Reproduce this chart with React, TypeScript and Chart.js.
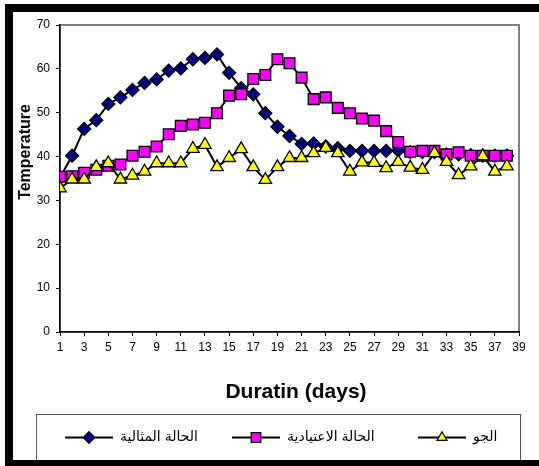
import React, { useEffect, useRef } from "react";
import { Chart, registerables } from "chart.js";

Chart.register(...registerables);

// ---- data ----
const days = [1, 2, 3, 4, 5, 6, 7, 8, 9, 10, 11, 12, 13, 14, 15, 16, 17, 18, 19, 20, 21, 22, 23, 24, 25, 26, 27, 28, 29, 30, 31, 32, 33, 34, 35, 36, 37, 38];

const idealLabel = "الحالة المثالية";
const normalLabel = "الحالة الاعتيادية";
const airLabel = "الجو";

const idealTemps = [35.2, 40.2, 46.3, 48.3, 52.0, 53.5, 55.2, 56.8, 57.6, 59.6, 60.1, 62.2, 62.5, 63.3, 59.1, 55.6, 54.2, 49.9, 46.8, 44.7, 42.9, 43.0, 42.3, 41.9, 41.3, 41.3, 41.3, 41.3, 41.4, 41.0, 41.0, 41.0, 40.5, 40.5, 40.3, 40.2, 40.2, 40.2];
const normalTemps = [35.4, 35.5, 36.3, 37.0, 37.9, 38.2, 40.2, 41.1, 42.3, 45.1, 47.0, 47.3, 47.7, 49.9, 53.9, 54.2, 57.7, 58.6, 62.2, 61.3, 58.0, 53.1, 53.5, 51.1, 49.9, 48.7, 48.2, 45.8, 43.3, 41.1, 41.3, 41.3, 40.5, 41.0, 40.2, 40.2, 40.2, 40.2];
const airTemps = [32.8, 34.8, 34.8, 37.6, 38.5, 34.8, 35.7, 36.6, 38.5, 38.5, 38.5, 41.8, 42.7, 37.6, 39.7, 41.7, 37.6, 34.7, 37.6, 39.7, 39.7, 40.8, 42.0, 40.8, 36.6, 38.7, 38.6, 37.4, 38.8, 37.5, 37.0, 40.8, 38.8, 35.8, 37.8, 40.1, 36.6, 37.8];

const xMin = 1;
const xMax = 39;
const xStep = 2;
const yMin = 0;
const yMax = 70;
const yStep = 10;

const xTitle = "Duratin (days)";
const yTitle = "Temperature";

const FONT = 'Arial, "Liberation Sans", "DejaVu Sans", sans-serif';

function drawMarker(ctx: CanvasRenderingContext2D, style: string, x: number, y: number, r: number, fill: string) {
  ctx.save();
  ctx.beginPath();
  if (style === "rectRot") {
    ctx.moveTo(x - r, y);
    ctx.lineTo(x, y - r);
    ctx.lineTo(x + r, y);
    ctx.lineTo(x, y + r);
    ctx.closePath();
  } else if (style === "rect") {
    const s = r * Math.SQRT1_2;
    ctx.rect(x - s, y - s, 2 * s, 2 * s);
  } else {
    ctx.moveTo(x, y - r);
    ctx.lineTo(x + r * 0.866, y + r / 2);
    ctx.lineTo(x - r * 0.866, y + r / 2);
    ctx.closePath();
  }
  ctx.fillStyle = fill;
  ctx.fill();
  ctx.lineWidth = 1.2;
  ctx.strokeStyle = "#000";
  ctx.stroke();
  ctx.restore();
}

const decorPlugin = {
  id: "decor",
  beforeDraw(chart: any) {
    const { ctx, chartArea } = chart;
    ctx.save();
    ctx.fillStyle = "#fff";
    ctx.fillRect(0, 0, chart.width, chart.height);
    ctx.strokeStyle = "#808080";
    ctx.lineWidth = 2;
    ctx.strokeRect(chartArea.left, chartArea.top, chartArea.right - chartArea.left, chartArea.bottom - chartArea.top);
    ctx.restore();
  },
  afterDraw(chart: any) {
    const { ctx } = chart;
    ctx.save();
    // axis titles
    ctx.fillStyle = "#000";
    ctx.font = `bold 21px ${FONT}`;
    ctx.textAlign = "center";
    ctx.textBaseline = "alphabetic";
    ctx.fillText(xTitle, 296, 398);
    ctx.save();
    ctx.translate(30, 152);
    ctx.rotate(-Math.PI / 2);
    ctx.font = `bold 16px ${FONT}`;
    ctx.fillText(yTitle, 0, 0);
    ctx.restore();

    // legend box
    ctx.strokeStyle = "#555";
    ctx.lineWidth = 1;
    ctx.strokeRect(36.5, 414.5, 484, 60);
    const starts = [65, 232, 418];
    const ly = 437.5;
    chart.data.datasets.forEach((ds: any, i: number) => {
      const x0 = starts[i];
      const lineLen = 48;
      ctx.beginPath();
      ctx.moveTo(x0, ly);
      ctx.lineTo(x0 + lineLen, ly);
      ctx.strokeStyle = "#000";
      ctx.lineWidth = 2;
      ctx.stroke();
      drawMarker(ctx, ds.pointStyle, x0 + lineLen / 2, ly, ds.pointStyle === "rect" ? 6.8 : 5.8, ds.pointBackgroundColor);
      ctx.fillStyle = "#000";
      ctx.font = `14px ${FONT}`;
      ctx.textAlign = "left";
      ctx.textBaseline = "middle";
      ctx.fillText(ds.label, x0 + lineLen + 7, ly);
    });

    // outer black frame
    ctx.strokeStyle = "#000";
    ctx.lineWidth = 8;
    ctx.strokeRect(9, 8, 570, 456);
    ctx.restore();
  },
};

export default function App() {
  const canvasRef = useRef<HTMLCanvasElement | null>(null);

  useEffect(() => {
    document.body.style.margin = "0";
    const canvas = canvasRef.current;
    if (!canvas) return;
    const tickFont = { family: FONT, size: 12 };
    const chart = new Chart(canvas, {
      type: "line",
      data: {
        labels: days,
        datasets: [
          {
            label: idealLabel,
            data: idealTemps,
            borderColor: "#000",
            borderWidth: 2,
            pointStyle: "rectRot",
            pointRadius: 6.5,
            pointBackgroundColor: "#000080",
            pointBorderColor: "#000",
            pointBorderWidth: 1.3,
            order: 3,
          },
          {
            label: normalLabel,
            data: normalTemps,
            borderColor: "#000",
            borderWidth: 2,
            pointStyle: "rect",
            pointRadius: 7.6,
            pointBackgroundColor: "#FF00FF",
            pointBorderColor: "#000",
            pointBorderWidth: 1.3,
            order: 2,
          },
          {
            label: airLabel,
            data: airTemps,
            borderColor: "#000",
            borderWidth: 2,
            pointStyle: "triangle",
            pointRadius: 7.2,
            pointBackgroundColor: "#FFFF00",
            pointBorderColor: "#000",
            pointBorderWidth: 1.3,
            order: 1,
          },
        ],
      } as any,
      options: {
        animation: false,
        responsive: false,
        maintainAspectRatio: false,
        devicePixelRatio: 1,
        layout: { padding: { top: 25, right: 20, left: 0, bottom: 0 } },
        plugins: {
          legend: { display: false },
          tooltip: { enabled: false },
        },
        scales: {
          x: {
            type: "linear",
            min: xMin,
            max: xMax,
            ticks: { stepSize: xStep, autoSkip: false, maxRotation: 0, font: tickFont, color: "#000", padding: 4 },
            grid: { drawOnChartArea: false, drawTicks: true, tickLength: 4, color: "#000" },
            border: { color: "#000", width: 1.5 },
            afterFit: (s: any) => {
              s.height = 134;
            },
          },
          y: {
            min: yMin,
            max: yMax,
            ticks: { stepSize: yStep, font: tickFont, color: "#000", padding: 6 },
            grid: { drawOnChartArea: false, drawTicks: true, tickLength: 4, color: "#000" },
            border: { color: "#000", width: 1.5 },
            afterFit: (s: any) => {
              s.width = 60;
            },
          },
        },
      } as any,
      plugins: [decorPlugin],
    });
    return () => chart.destroy();
  }, []);

  return (
    <div style={{ width: 539, height: 466 }}>
      <canvas ref={canvasRef} width={539} height={466} style={{ display: "block" }} />
    </div>
  );
}
